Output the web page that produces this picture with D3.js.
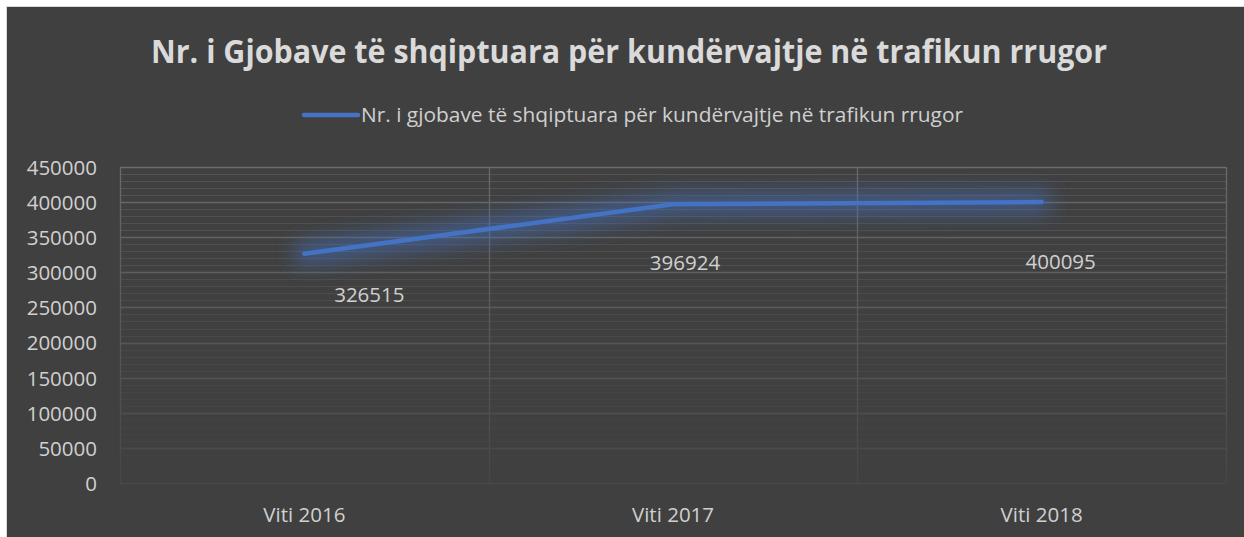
<!DOCTYPE html>
<html><head><meta charset="utf-8">
<script src="https://cdn.jsdelivr.net/npm/d3@7"></script>
<style>html,body{margin:0;padding:0;background:#fff;}svg{display:block;}</style>
</head><body>
<svg id="c" width="1244" height="537"></svg>
<script>
const title = "Nr. i Gjobave të shqiptuara për kundërvajtje në trafikun rrugor";
const seriesName = "Nr. i gjobave të shqiptuara për kundërvajtje në trafikun rrugor";
const categories = ["Viti 2016", "Viti 2017", "Viti 2018"];
const values = [326515, 396924, 400095];
const yTicks = [0, 50000, 100000, 150000, 200000, 250000, 300000, 350000, 400000, 450000];
const labelOffsets = [[65, 48], [12, 66], [19, 67]]; // dx, dy of data labels (style)

const W = 1244, H = 537;
const svg = d3.select("#c");
const m = {left: 120, right: 1226, top: 167, bottom: 483};
const font = "'Open Sans', sans-serif";
const textCol = "#d0d0d0";

const defs = svg.append("defs");
const g1 = defs.append("linearGradient").attr("id","gridMaj").attr("gradientUnits","userSpaceOnUse")
  .attr("x1",0).attr("x2",0).attr("y1",m.top).attr("y2",m.bottom);
g1.append("stop").attr("offset","0%").attr("stop-color","#6a6a6a");
g1.append("stop").attr("offset","100%").attr("stop-color","#474747");
const g2 = defs.append("linearGradient").attr("id","gridMin").attr("gradientUnits","userSpaceOnUse")
  .attr("x1",0).attr("x2",0).attr("y1",m.top).attr("y2",m.bottom);
g2.append("stop").attr("offset","0%").attr("stop-color","#545454");
g2.append("stop").attr("offset","70%").attr("stop-color","#464646");
g2.append("stop").attr("offset","100%").attr("stop-color","#404040");
const f = defs.append("filter").attr("id","glow").attr("x","-20%").attr("y","-200%").attr("width","140%").attr("height","500%");
f.append("feGaussianBlur").attr("stdDeviation",10);

// background
svg.append("rect").attr("x",6.5).attr("y",6.5).attr("width",W).attr("height",H)
  .attr("fill","#404040").attr("stroke","#d9d9d9").attr("stroke-width",1);

const x = d3.scaleBand().domain(categories).range([m.left, m.right]).padding(0);
const y = d3.scaleLinear().domain([0, 450000]).range([m.bottom, m.top]);

// minor gridlines
const minor = d3.range(0, 450001, 10000).filter(v => v % 50000 !== 0);
svg.append("g").selectAll("line").data(minor).join("line")
  .attr("x1", m.left).attr("x2", m.right)
  .attr("y1", d => Math.round(y(d))+0.5).attr("y2", d => Math.round(y(d))+0.5)
  .attr("stroke","url(#gridMin)").attr("stroke-width",1);

// major gridlines
svg.append("g").selectAll("line").data(yTicks).join("line")
  .attr("x1", m.left).attr("x2", m.right)
  .attr("y1", d => Math.round(y(d))+0.5).attr("y2", d => Math.round(y(d))+0.5)
  .attr("stroke","url(#gridMaj)").attr("stroke-width",1.3);

// vertical gridlines (category boundaries + plot edges)
const vx = categories.map(c => x(c)).concat([m.right]);
svg.append("g").selectAll("line").data(vx).join("line")
  .attr("x1", d => Math.round(d)+0.5).attr("x2", d => Math.round(d)+0.5)
  .attr("y1", m.top).attr("y2", m.bottom)
  .attr("stroke","url(#gridMaj)").attr("stroke-width",1.3);

// y axis labels
const yAxis = d3.axisLeft(y).tickValues(yTicks).tickSize(0).tickPadding(0).tickFormat(d3.format("d"));
const ya = svg.append("g").attr("transform", `translate(97,0)`).call(yAxis);
ya.select(".domain").remove();
ya.selectAll("text").attr("fill", textCol).style("font-family", font).style("font-size","20.5px").attr("dy","0.36em");

// x axis labels
const xAxis = d3.axisBottom(x).tickSize(0).tickPadding(0);
const xa = svg.append("g").attr("transform", `translate(0,522)`).call(xAxis);
xa.select(".domain").remove();
xa.selectAll("text").attr("fill", textCol).style("font-family", font).style("font-size","20.5px").attr("dy","0");

// line
const pts = categories.map((c,i) => [x(c) + x.bandwidth()/2, y(values[i])]);
const line = d3.line();
svg.append("path").attr("d", line(pts)).attr("fill","none").attr("stroke","#4472c4")
  .attr("stroke-width",22).attr("stroke-opacity",0.55).attr("stroke-linecap","round").attr("filter","url(#glow)");
svg.append("path").attr("d", line(pts)).attr("fill","none").attr("stroke","#4472c4")
  .attr("stroke-width",4.5).attr("stroke-linecap","round").attr("stroke-linejoin","round");

// data labels
svg.append("g").selectAll("text").data(values).join("text")
  .attr("x", (d,i) => pts[i][0] + labelOffsets[i][0])
  .attr("y", (d,i) => pts[i][1] + labelOffsets[i][1])
  .attr("text-anchor","middle").attr("fill", textCol)
  .style("font-family", font).style("font-size","20.5px")
  .text(d => d);

// title
svg.append("text").attr("x", 629).attr("y", 63).attr("text-anchor","middle")
  .attr("fill","#dadada").style("font-family", font).style("font-weight","bold").style("font-size","32px")
  .attr("textLength", 956).attr("lengthAdjust","spacingAndGlyphs").text(title);

// legend
svg.append("line").attr("x1",304).attr("x2",358).attr("y1",115).attr("y2",115)
  .attr("stroke","#4472c4").attr("stroke-width",4.5).attr("stroke-linecap","round");
svg.append("text").attr("x",361).attr("y",122).attr("fill", textCol)
  .style("font-family", font).style("font-size","20px")
  .attr("textLength", 602).attr("lengthAdjust","spacingAndGlyphs").text(seriesName);
</script>
</body></html>
